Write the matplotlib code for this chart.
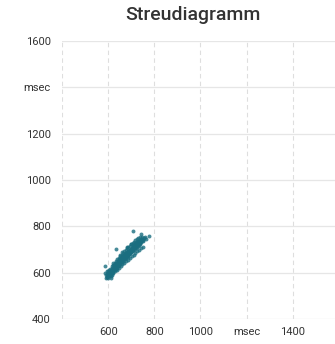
import matplotlib
matplotlib.use('Agg')
import matplotlib.pyplot as plt

# scatter points (msec)
x_vals = [592, 596, 600, 603, 598, 605, 608, 595, 601, 610, 612, 606, 599, 615, 618, 613, 609, 620, 622, 617,
          625, 628, 624, 630, 633, 627, 635, 638, 632, 640, 636, 642, 645, 641, 648, 644, 650, 647, 652, 655,
          653, 658, 657, 660, 662, 665, 663, 667, 668, 670, 672, 671, 674, 676, 678, 677, 680, 682, 681, 684,
          686, 685, 688, 690, 689, 692, 694, 693, 696, 698, 697, 700, 702, 701, 704, 706, 705, 708, 710, 709,
          712, 714, 713, 716, 718, 717, 720, 722, 721, 724, 726, 725, 728, 730, 729, 732, 734, 733, 736, 738,
          737, 740, 742, 741, 744, 747, 750, 748, 753, 756,
          707, 741, 775, 635, 585, 760, 620, 650, 590, 766, 680, 700, 612, 745, 660,
          655, 660, 665, 670, 675, 680, 685, 690, 695, 700, 705, 710, 715, 720, 725, 730, 645, 640, 635, 630,
          626, 619, 614, 607, 602, 662, 668, 673, 678, 683, 688, 693, 698, 703, 708, 713, 718, 723, 728, 733,
          615, 620, 628, 633, 640, 646, 652, 658, 664, 670, 676, 682, 688, 694, 700, 706, 712, 718, 724, 730, 736,
          622, 630, 638, 646, 654, 662, 670, 678, 686, 694, 702, 710, 718, 726, 734, 742, 750,
          588, 594, 604, 611, 597, 616]
y_vals = [588, 583, 590, 596, 600, 585, 592, 596, 579, 600, 594, 604, 607, 598, 607, 611, 615, 603, 614, 620,
          610, 618, 626, 622, 614, 632, 628, 620, 638, 634, 643, 627, 640, 648, 635, 652, 645, 657, 640, 650,
          660, 647, 664, 655, 668, 650, 673, 660, 676, 665, 658, 680, 670, 684, 662, 675, 688, 672, 679, 666,
          692, 683, 676, 695, 686, 680, 700, 690, 684, 704, 695, 688, 708, 698, 692, 712, 703, 696, 716, 706,
          700, 720, 710, 705, 724, 714, 708, 728, 718, 712, 731, 722, 716, 735, 726, 720, 738, 729, 724, 741,
          732, 728, 744, 735, 731, 739, 736, 745, 742, 748,
          780, 765, 758, 701, 629, 752, 640, 675, 575, 744, 710, 725, 576, 755, 690,
          645, 648, 660, 672, 668, 677, 690, 682, 692, 700, 696, 708, 715, 722, 718, 730, 633, 630, 622, 615,
          620, 612, 605, 598, 594, 655, 668, 662, 680, 674, 688, 698, 690, 700, 712, 718, 712, 724, 722, 734,
          628, 635, 642, 650, 657, 665, 672, 678, 686, 692, 698, 705, 710, 716, 722, 728, 734, 740, 744, 748, 752,
          600, 606, 612, 620, 628, 636, 642, 650, 656, 664, 670, 678, 684, 692, 698, 706, 712,
          598, 606, 612, 586, 580, 590]

x_ticks = [400, 600, 800, 1000, 1200, 1400]
x_labels = ['', '600', '800', '1000', 'msec', '1400']
y_ticks = [400, 600, 800, 1000, 1200, 1400, 1600]
y_labels = ['400', '600', '800', '1000', '1200', 'msec', '1600']

plt.rcParams['font.family'] = ['Roboto', 'DejaVu Sans']

fig = plt.figure(figsize=(3.35, 3.44), dpi=100)
ax = fig.add_axes([0.185, 0.0727, 0.827, 0.808])

ax.scatter(x_vals, y_vals, s=8, color='#1a6e80', alpha=0.8, linewidths=0, zorder=3)

ax.set_xlim(400, 1600)
ax.set_ylim(400, 1600)
ax.set_xticks(x_ticks)
ax.set_xticklabels(x_labels)
ax.set_yticks(y_ticks)
ax.set_yticklabels(y_labels)

for s in ax.spines.values():
    s.set_visible(False)
ax.tick_params(length=0, labelsize=8, labelcolor='#333333')
ax.tick_params(axis='y', pad=8)
ax.tick_params(axis='x', pad=6)

ax.yaxis.grid(True, color='#e6e6e6', linewidth=0.9, linestyle='-')
ax.xaxis.grid(True, color='#dedede', linewidth=0.8, linestyle=(0, (4, 3)))
ax.set_axisbelow(True)

fig.text(0.576, 0.955, 'Streudiagramm', ha='center', va='center', fontsize=14,
         fontweight='medium', color='#333333')

fig.savefig('out.png', dpi=100)
